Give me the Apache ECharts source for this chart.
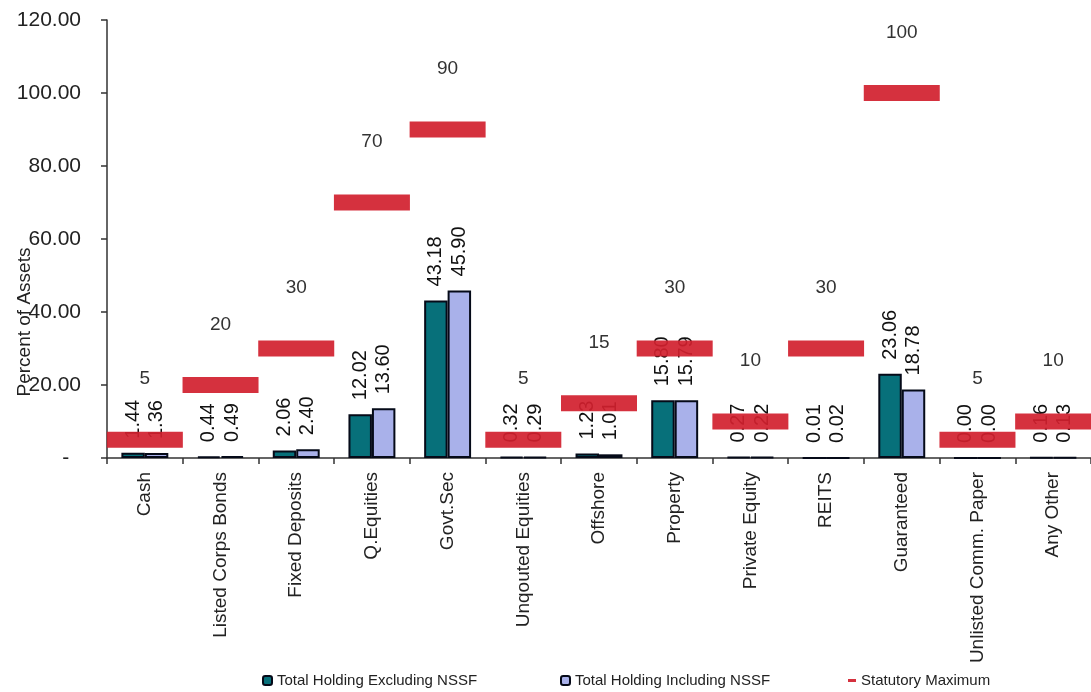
<!DOCTYPE html>
<html>
<head>
<meta charset="utf-8">
<script src="https://cdn.jsdelivr.net/npm/echarts@6/dist/echarts.min.js"></script>
<style>
html,body{margin:0;padding:0;background:#fff;}
#chart{width:1091px;height:692px;}
</style>
</head>
<body>
<div id="chart"></div>
<script>
const categories = ['Cash','Listed Corps Bonds','Fixed Deposits','Q.Equities','Govt.Sec','Unqouted Equities','Offshore','Property','Private Equity','REITS','Guaranteed','Unlisted Comm. Paper','Any Other'];
const excludingNSSF = [1.44, 0.44, 2.06, 12.02, 43.18, 0.32, 1.23, 15.80, 0.27, 0.01, 23.06, 0.00, 0.16];
const includingNSSF = [1.36, 0.49, 2.40, 13.60, 45.90, 0.29, 1.01, 15.79, 0.22, 0.02, 18.78, 0.00, 0.13];
const statutoryMax = [5, 20, 30, 70, 90, 5, 15, 30, 10, 30, 100, 5, 10];
const yTicks = [0, 20, 40, 60, 80, 100, 120];

const FONT = 'Liberation Sans, Arial, sans-serif';
const chart = echarts.init(document.getElementById('chart'));

const valueLabel = {
  show: true,
  position: 'top',
  distance: 14,
  rotate: 90,
  align: 'left',
  verticalAlign: 'middle',
  fontFamily: FONT,
  fontSize: 20,
  color: '#111',
  formatter: p => p.value.toFixed(2)
};

chart.setOption({
  animation: false,
  backgroundColor: '#fff',
  grid: { left: 107, top: 20, bottom: 234, right: -9, containLabel: false },
  legend: [
    { left: 262, top: 673, itemWidth: 9, itemHeight: 9, padding: 0, data: ['Total Holding Excluding NSSF'],
      textStyle: { fontFamily: FONT, fontSize: 15, color: '#222' } },
    { left: 560, top: 673, itemWidth: 9, itemHeight: 9, padding: 0, data: ['Total Holding Including NSSF'],
      textStyle: { fontFamily: FONT, fontSize: 15, color: '#222' } },
    { left: 848, top: 673, itemWidth: 8, itemHeight: 3, padding: 0, data: [{ name: 'Statutory Maximum', icon: 'rect' }],
      textStyle: { fontFamily: FONT, fontSize: 15, color: '#222' } }
  ],
  graphic: [{
    type: 'text', x: 25, y: 322, rotation: Math.PI / 2,
    style: { text: 'Percent of Assets', fontFamily: FONT, fontSize: 19, fill: '#222', textAlign: 'center', textVerticalAlign: 'middle' }
  }],
  xAxis: {
    type: 'category',
    data: categories,
    axisLine: { lineStyle: { color: '#333', width: 1.5 } },
    axisTick: { show: true, length: 6, lineStyle: { color: '#333', width: 1.5 } },
    axisLabel: { rotate: 90, margin: 14, fontFamily: FONT, fontSize: 19, color: '#222', interval: 0 },
    splitLine: { show: false }
  },
  yAxis: {
    type: 'value',
    min: yTicks[0], max: yTicks[yTicks.length - 1], interval: 20,
    axisLine: { show: true, lineStyle: { color: '#333', width: 1.5 } },
    axisTick: { show: true, length: 6, lineStyle: { color: '#333', width: 1.5 } },
    axisLabel: { margin: 26, fontFamily: FONT, fontSize: 21, color: '#222',
      formatter: v => v === 0 ? '-  ' : v.toFixed(2) },
    splitLine: { show: false }
  },
  series: [
    {
      name: 'Total Holding Excluding NSSF', type: 'bar', data: excludingNSSF,
      barGap: '0%', barCategoryGap: '38%', z: 2,
      itemStyle: { color: '#07707a', borderColor: '#050a18', borderWidth: 2 },
      label: valueLabel
    },
    {
      name: 'Total Holding Including NSSF', type: 'bar', data: includingNSSF,
      barGap: '0%', barCategoryGap: '38%', z: 2,
      itemStyle: { color: '#a9b1ea', borderColor: '#050a18', borderWidth: 2 },
      label: valueLabel
    },
    {
      name: 'Statutory Maximum', type: 'scatter', data: statutoryMax,
      symbol: 'rect', symbolSize: [76, 16], z: 5,
      itemStyle: { color: '#d11f2e', opacity: 0.92 },
      label: { show: true, position: 'top', distance: 43, fontFamily: FONT, fontSize: 19, color: '#222',
        formatter: p => String(p.value) }
    }
  ]
});
</script>
</body>
</html>
